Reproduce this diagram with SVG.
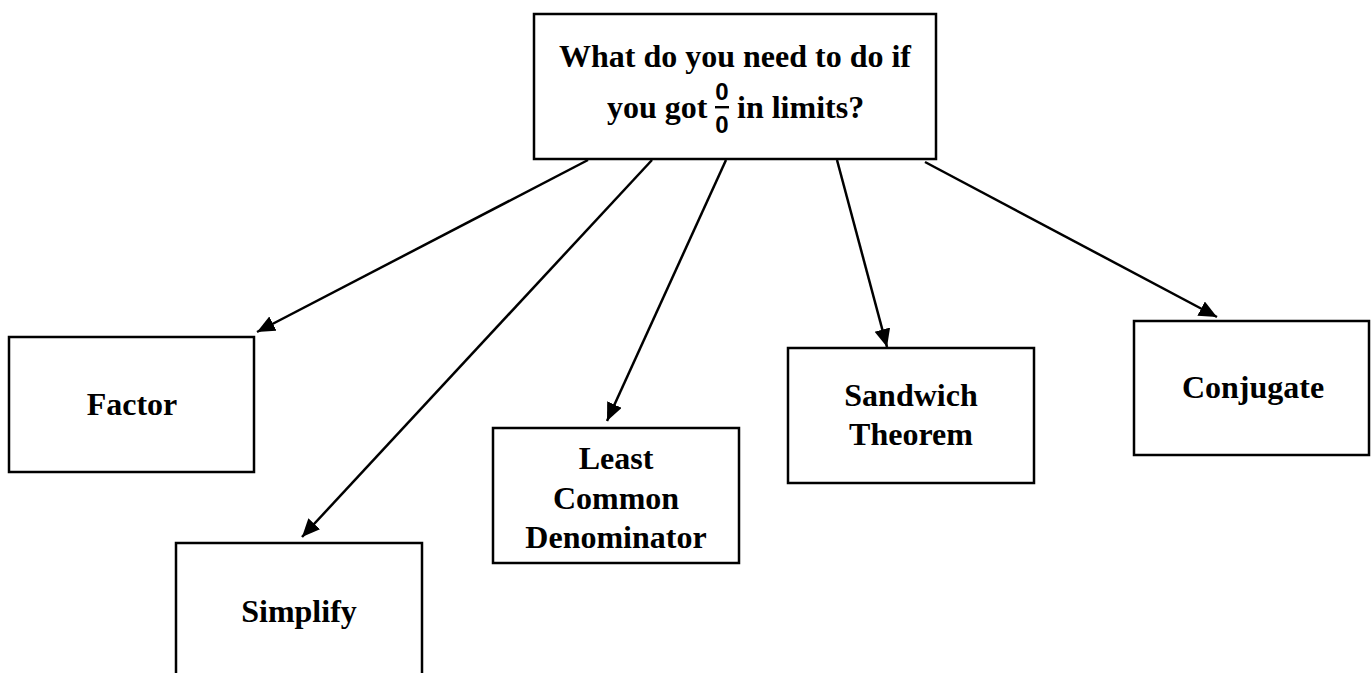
<svg xmlns="http://www.w3.org/2000/svg" width="1371" height="673" viewBox="0 0 1371 673">
<style>
.box{fill:#fff;stroke:#000;stroke-width:2.5}
.t{font-family:"Liberation Serif","Times New Roman",serif;font-weight:bold;font-size:32px;fill:#000}
.c{text-anchor:middle}
.m{font-family:"Liberation Sans",Arial,sans-serif;font-weight:bold;font-size:24px;fill:#000;text-anchor:middle}
.edge{stroke:#000;stroke-width:2.5;fill:none;marker-end:url(#ah)}
</style>
<defs>
<marker id="ah" markerUnits="userSpaceOnUse" markerWidth="20" markerHeight="18" refX="18" refY="8" orient="auto">
<path d="M0,0 L18,8 L0,16 z" fill="#000"/>
</marker>
</defs>
<rect width="1371" height="673" fill="#fff"/>
<g id="connectors">
<line class="edge" x1="588" y1="160" x2="257" y2="332"/>
<line class="edge" x1="652" y1="160" x2="302" y2="537"/>
<line class="edge" x1="726" y1="160" x2="607" y2="421"/>
<line class="edge" x1="837" y1="160" x2="887" y2="347"/>
<line class="edge" x1="925" y1="162" x2="1217" y2="317"/>
</g>
<g id="root">
<rect class="box" x="534" y="14" width="402" height="145"/>
<text class="t c" x="735" y="67">What do you need to do if</text>
<text class="t" x="607" y="118">you got</text>
<text class="m" x="722" y="100">0</text>
<rect x="715" y="106" width="14" height="2.4" fill="#000"/>
<text class="m" x="722" y="133">0</text>
<text class="t" x="737" y="118">in limits?</text>
</g>
<g id="factor">
<rect class="box" x="9" y="337" width="245" height="135"/>
<text class="t c" x="132" y="415">Factor</text>
</g>
<g id="simplify">
<rect class="box" x="176" y="543" width="246" height="150"/>
<text class="t c" x="299" y="622">Simplify</text>
</g>
<g id="lcd">
<rect class="box" x="493" y="428" width="246" height="135"/>
<text class="t c" x="616" y="469">Least</text>
<text class="t c" x="616" y="509">Common</text>
<text class="t c" x="616" y="548">Denominator</text>
</g>
<g id="sandwich">
<rect class="box" x="788" y="348" width="246" height="135"/>
<text class="t c" x="911" y="406">Sandwich</text>
<text class="t c" x="911" y="445">Theorem</text>
</g>
<g id="conjugate">
<rect class="box" x="1134" y="321" width="235" height="134"/>
<text class="t c" x="1253" y="398">Conjugate</text>
</g>
</svg>
